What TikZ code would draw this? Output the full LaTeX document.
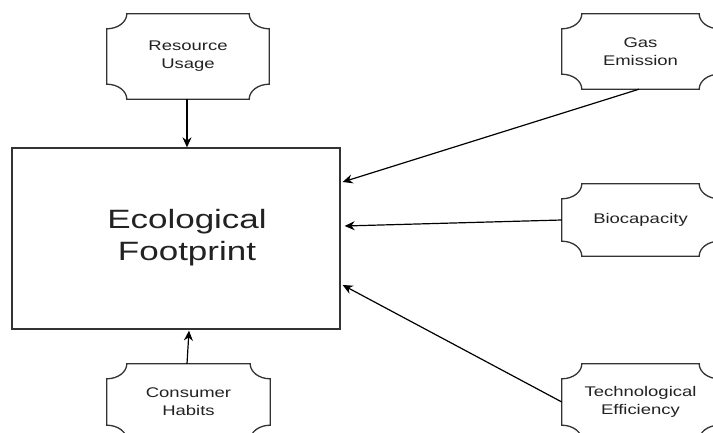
\documentclass[tikz,border=0pt]{standalone}
\usepackage{fontspec}
\setmainfont{Liberation Sans}[FakeStretch=1.32]
\usetikzlibrary{arrows.meta}
\definecolor{boxline}{HTML}{333333}
\definecolor{txt}{HTML}{222222}
\tikzset{
  plaquebox/.style={rectangle, inner sep=0pt, align=center, text=txt,
    font=\fontsize{14}{18}\selectfont},
  plaqueline/.style={draw=boxline, line width=1.3pt, line join=miter},
  mainbox/.style={rectangle, draw=boxline, line width=1.3pt, inner sep=0pt},
  maintext/.style={align=center, text=txt, inner sep=0pt, font=\fontsize{26.5}{32}\selectfont},
  conn/.style={draw=black, line width=1.2pt, -{Stealth[length=10pt,width=9pt]}}
}
\newcommand\plaquedraw[1]{%
  \draw[plaqueline] ([xshift=20pt]#1.north west) -- ([xshift=-20pt]#1.north east)
    arc[start angle=180, end angle=270, x radius=20pt, y radius=15pt]
    -- ([yshift=15pt]#1.south east)
    arc[start angle=90, end angle=180, x radius=20pt, y radius=15pt]
    -- ([xshift=20pt]#1.south west)
    arc[start angle=0, end angle=90, x radius=20pt, y radius=15pt]
    -- ([yshift=-15pt]#1.north west)
    arc[start angle=270, end angle=360, x radius=20pt, y radius=15pt]
    -- cycle;}
\begin{document}
\begin{tikzpicture}[x=1pt,y=1pt]
\fill[white] (0,0) rectangle (713,432);
\useasboundingbox (0,0) rectangle (713,432);
% main
\node[mainbox, minimum width=328pt, minimum height=181pt] (eco) at (176,193.5) {};
\node[maintext] (ecotext) at (187,194) {Ecological\\Footprint};
% plaques
\node[plaquebox, minimum width=162pt, minimum height=85pt] (res) at (188,375.5) {Resource\\Usage};
\node[plaquebox, minimum width=157pt, minimum height=75pt] (gas) at (640.5,380.5) {Gas\\Emission};
\node[plaquebox, minimum width=157pt, minimum height=72pt] (bio) at (640.5,212) {Biocapacity};
\node[plaquebox, minimum width=163pt, minimum height=76pt] (con) at (188.5,30) {Consumer\\Habits};
\node[plaquebox, minimum width=157pt, minimum height=76pt] (tec) at (640.5,30) {Technological\\Efficiency};
\plaquedraw{res}
\plaquedraw{gas}
\plaquedraw{bio}
\plaquedraw{con}
\plaquedraw{tec}
% end points
\coordinate (eres) at ([xshift=11pt]eco.north);
\coordinate (econ) at ([xshift=13pt,yshift=-1pt]eco.south);
\coordinate (egas) at ([xshift=2pt,yshift=56.5pt]eco.east);
\coordinate (ebio) at ([xshift=4pt,yshift=12.5pt]eco.east);
\coordinate (etec) at ([xshift=2pt,yshift=-46.5pt]eco.east);
\draw[conn] ([xshift=-1pt]res.south) -- (eres);
\draw[conn] ([xshift=-1.5pt]con.north) -- (econ);
\draw[conn] ([xshift=-1.5pt]gas.south) -- (egas);
\draw[conn] (bio.west) -- (ebio);
\draw[conn] (tec.west) -- (etec);
\end{tikzpicture}
\end{document}
